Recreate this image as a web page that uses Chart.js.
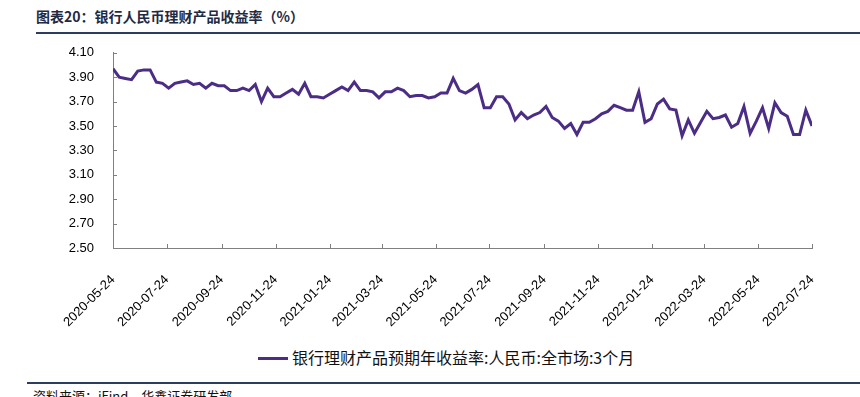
<!DOCTYPE html>
<html>
<head>
<meta charset="utf-8">
<script src="https://cdn.jsdelivr.net/npm/chart.js@4/dist/chart.umd.min.js"></script>
<style>
  body { margin: 0; width: 860px; height: 397px; overflow: hidden; background: #fff; position: relative; }
  .title { position: absolute; left: 36px; top: 6px; font: bold 14px "Noto Sans CJK SC", sans-serif; color: #1f2a44; }
  .rule { position: absolute; height: 2px; background: #2c3d5e; }
  .source { position: absolute; left: 33px; top: 386px; font: 13px "Noto Sans CJK SC", serif; color: #111; }
  #chartBox { position: absolute; left: 0; top: 26px; width: 860px; height: 314px; }
  #legend { position: absolute; left: 258px; top: 345px; font: 16px "Noto Sans CJK SC", sans-serif; color: #111; white-space: nowrap; }
  #legend .swatch { display: inline-block; width: 30px; height: 3px; vertical-align: middle; margin-right: 4px; position: relative; top: -1px; }
</style>
</head>
<body>
<div class="title">图表20：银行人民币理财产品收益率（%）</div>
<div class="rule" style="left:36px; right:0; top:32px;"></div>
<div id="chartBox"><canvas id="chart"></canvas></div>
<div id="legend"></div>
<div class="rule" style="left:27px; right:0; top:382px;"></div>
<div class="source">资料来源：iFind，华鑫证券研发部</div>
<script>
// Weekly series, first point on 2020-05-24
const startDate = "2020-05-24";
const seriesName = "银行理财产品预期年收益率:人民币:全市场:3个月";
const yieldValues = [
  3.97, 3.90, 3.89, 3.88, 3.95, 3.96, 3.96, 3.86, 3.85, 3.81, 3.85, 3.86, 3.87, 3.84, 3.85, 3.81, 3.85, 3.83, 3.83, 3.79, 3.79, 3.81, 3.79,
  3.84, 3.70, 3.81, 3.74, 3.74, 3.77, 3.80, 3.76, 3.85, 3.74, 3.74, 3.73, 3.76, 3.79, 3.82, 3.79, 3.86, 3.79, 3.79, 3.78, 3.73, 3.78, 3.78,
  3.81, 3.79, 3.74, 3.75, 3.75, 3.73, 3.74, 3.77, 3.77, 3.89, 3.79, 3.77, 3.80, 3.84, 3.65, 3.65, 3.74, 3.74, 3.68, 3.55, 3.61, 3.56, 3.59,
  3.61, 3.66, 3.57, 3.54, 3.48, 3.52, 3.43, 3.53, 3.53, 3.56, 3.60, 3.62, 3.67, 3.65, 3.63, 3.63, 3.78, 3.53, 3.56, 3.68, 3.72, 3.64,
  3.63, 3.42, 3.55, 3.44, 3.53, 3.62, 3.56, 3.57, 3.59, 3.49, 3.52, 3.66, 3.44, 3.54, 3.65, 3.48, 3.69, 3.61, 3.58, 3.43, 3.43, 3.63, 3.50
];
const xTickLabels = [
  "2020-05-24", "2020-07-24", "2020-09-24", "2020-11-24", "2021-01-24", "2021-03-24", "2021-05-24",
  "2021-07-24", "2021-09-24", "2021-11-24", "2022-01-24", "2022-03-24", "2022-05-24", "2022-07-24"
];
const yMin = 2.5;
const yMax = 4.1;
const yStep = 0.2;

const DAY = 86400000;
const dayOffset = (s) => (Date.parse(s) - Date.parse(startDate)) / DAY;
const labelByDay = {};
xTickLabels.forEach((s) => { labelByDay[dayOffset(s)] = s; });

const points = yieldValues.map((v, i) => ({ x: i * 7, y: v }));

// small tick marks pointing into the plot, like the original
const innerTicks = {
  id: "innerTicks",
  afterDraw(chart) {
    const { ctx, chartArea, scales } = chart;
    ctx.save();
    ctx.strokeStyle = "#808080";
    ctx.lineWidth = 1;
    ctx.beginPath();
    scales.y.ticks.forEach((t) => {
      const y = Math.round(scales.y.getPixelForValue(t.value)) + 0.5;
      ctx.moveTo(chartArea.left, y);
      ctx.lineTo(chartArea.left + 4, y);
    });
    scales.x.ticks.forEach((t) => {
      const x = Math.round(scales.x.getPixelForValue(t.value)) + 0.5;
      ctx.moveTo(x, chartArea.bottom);
      ctx.lineTo(x, chartArea.bottom - 4);
    });
    ctx.stroke();
    ctx.restore();
  },
};

const axisFont = { family: "'Liberation Sans', sans-serif", size: 13 };

const chart = new Chart(document.getElementById("chart"), {
  type: "line",
  data: {
    datasets: [
      {
        label: seriesName,
        data: points,
        borderColor: "#4b2d86",
        backgroundColor: "#4b2d86",
        borderWidth: 3,
        pointRadius: 0,
        tension: 0,
      },
    ],
  },
  options: {
    responsive: true,
    maintainAspectRatio: false,
    animation: false,
    layout: { padding: { top: 12, left: 0, right: 48, bottom: 0 } },
    scales: {
      x: {
        type: "linear",
        min: 0,
        max: dayOffset(xTickLabels[xTickLabels.length - 1]),
        afterBuildTicks(scale) {
          scale.ticks = xTickLabels.map((s) => ({ value: dayOffset(s) }));
        },
        afterFit(scale) { scale.height = 92; },
        grid: { display: false, drawTicks: false },
        border: { display: true, color: "#808080", width: 1 },
        ticks: {
          autoSkip: false,
          minRotation: 45,
          maxRotation: 45,
          padding: 24,
          color: "#000",
          font: axisFont,
          callback: (v) => labelByDay[v] || "",
        },
      },
      y: {
        min: yMin,
        max: yMax,
        afterFit(scale) { scale.width = 113; },
        grid: { display: false, drawTicks: false },
        border: { display: true, color: "#808080", width: 1 },
        ticks: {
          stepSize: yStep,
          padding: 19,
          color: "#000",
          font: axisFont,
          callback: (v) => v.toFixed(2),
        },
      },
    },
    plugins: {
      legend: { display: false },
      tooltip: { enabled: false },
    },
  },
  plugins: [innerTicks],
});

// legend drawn as html from the dataset
const legendBox = document.getElementById("legend");
chart.data.datasets.forEach((ds) => {
  legendBox.innerHTML += `<span class="swatch" style="background:${ds.borderColor}"></span>${ds.label}`;
});
</script>
</body>
</html>
